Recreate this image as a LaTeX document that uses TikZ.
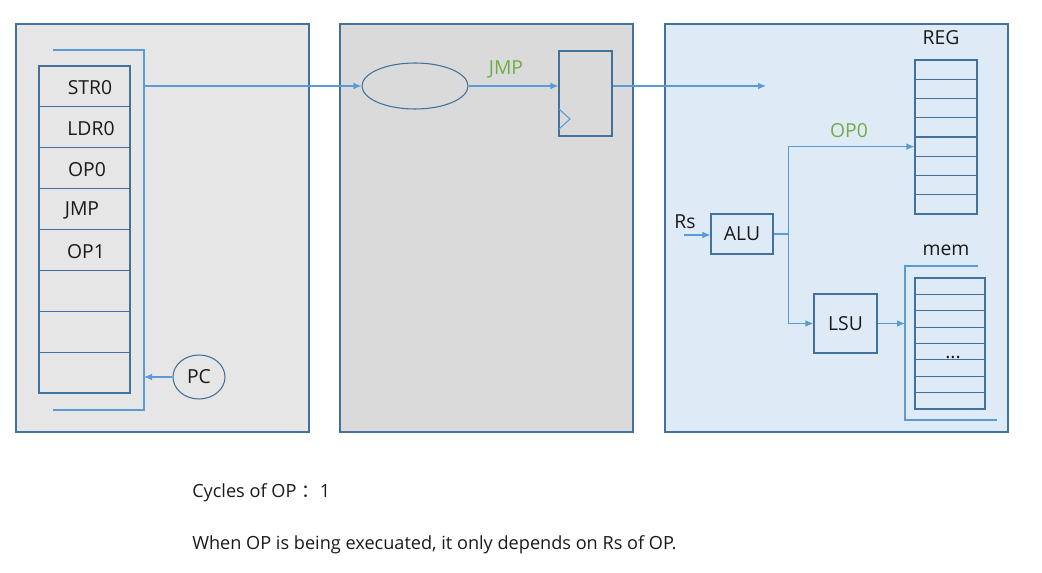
\documentclass[tikz,border=0pt]{standalone}
\usepackage{fontspec}
\setmainfont{Open Sans}
\newfontfamily\cjkfont{Noto Sans CJK SC}
\usetikzlibrary{arrows.meta,shapes.geometric}
\definecolor{bord}{HTML}{41719C}
\definecolor{lnk}{HTML}{5B9BD5}
\definecolor{grn}{HTML}{70AD47}
\definecolor{pA}{HTML}{E6E6E6}
\definecolor{pB}{HTML}{DADADA}
\definecolor{pC}{HTML}{DEEBF7}
\definecolor{txt}{HTML}{1A1A1A}
\begin{document}
\begin{tikzpicture}[x=0.75pt,y=-0.75pt,
 panel/.style={draw=bord,line width=0.8pt},
 cell/.style={draw=bord,line width=0.8pt,inner sep=0pt,rectangle},
 conn/.style={draw=lnk,line width=0.8pt},
 arr/.style={conn,-{Latex[length=6pt,width=5pt]}},
 lbl/.style={inner sep=0pt,font=\fontsize{14.5}{17}\selectfont,text=txt},
 glbl/.style={lbl,text=grn},
 note/.style={inner sep=0pt,font=\fontsize{13.6}{16}\selectfont,text=txt,anchor=base west},
]
\useasboundingbox (0,0) rectangle (1042,573);
\fill[white] (0,0) rectangle (1042,573);

% panels
\filldraw[panel,fill=pA] (16,24) rectangle (309,432);
\filldraw[panel,fill=pB] (340,24) rectangle (633,432);
\filldraw[panel,fill=pC] (665,24) rectangle (1008,432);

% instruction memory
\foreach \i in {1,...,8}
  \node[cell,minimum width=68.25pt,minimum height=30.656pt] (ins\i) at (84.5,{66+(\i-0.5)*40.875}) {};
\node[lbl] (tstr) at (90,88) {STR0};
\node[lbl] (tldr) at (91,128.5) {LDR0};
\node[lbl] (top0) at (87,169.5) {OP0};
\node[lbl] (tjmp) at (82,210) {JMP};
\node[lbl] (top1) at (86,251.5) {OP1};

\draw[conn] (53,50) -- (144,50) -- (144,410) -- (53,410);
\coordinate (bout) at (144,86);
\coordinate (bin) at (144,375);

\node[draw=bord,ellipse,line width=0.8pt,minimum width=39pt,minimum height=33pt,lbl] (pc) at (199,377) {PC};
\draw[arr] (pc.west) -- (pc.west -| bin);

% middle stage
\node[draw=bord,ellipse,line width=0.8pt,minimum width=79.5pt,minimum height=34.5pt,inner sep=0pt] (ell) at (415,86) {};
\draw[arr] (bout) -- (ell.west);
\node[cell,minimum width=39.75pt,minimum height=63.75pt] (ff) at (585.5,93.5) {};
\draw[arr] (ell.east) -- (ell.east -| ff.west);
\node[glbl] (jmp) at (506,69) {JMP};
\draw[conn] (559,109) -- (570,119) -- (559,129);
\coordinate (fout) at (766,86);
\draw[arr] (ff.east |- ell.east) -- (fout);

% right stage
\node[lbl] (reglbl) at (941,38) {REG};
\foreach \i in {1,...,8}
  \node[cell,minimum width=46.5pt,minimum height=14.4375pt] (reg\i) at (946,{60+(\i-0.5)*19.25}) {};

\node[cell,lbl,minimum width=46.5pt,minimum height=30pt] (alu) at (742,234) {ALU};
\node[lbl] (rs) at (685,222) {Rs};
\coordinate (rsin) at (684,235);
\draw[arr] (rsin) -- (rsin -| alu.west);

\node[cell,lbl,minimum width=47.25pt,minimum height=44.25pt] (lsu) at (845.5,323.5) {LSU};

\draw[conn] (alu.east) -- ++(15,0) coordinate (split);
\draw[arr] (split) |- (reg5.west);
\draw[arr] (split) |- (lsu.west);
\node[glbl] (op0) at (849,131) {OP0};

\node[lbl] (memlbl) at (946,250) {mem};
\draw[conn] (978,266) -- (905,266) -- (905,420) -- (997,420);
\coordinate (memin) at (905,323);
\draw[arr] (lsu.east) -- (lsu.east -| memin);
\foreach \i in {1,...,8}
  \node[cell,minimum width=52.5pt,minimum height=12.28pt] (mem\i) at (950,{278+(\i-0.5)*16.375}) {};
\node[lbl] (dots) at (953,357) {...};

% notes
\node[note] (cyc) at (192,497.5) {Cycles of OP\hspace{4pt}{\cjkfont ：}1};
\node[note] (rule) at (192,549.5) {When OP is being execuated, it only depends on Rs of OP.};
\end{tikzpicture}
\end{document}
